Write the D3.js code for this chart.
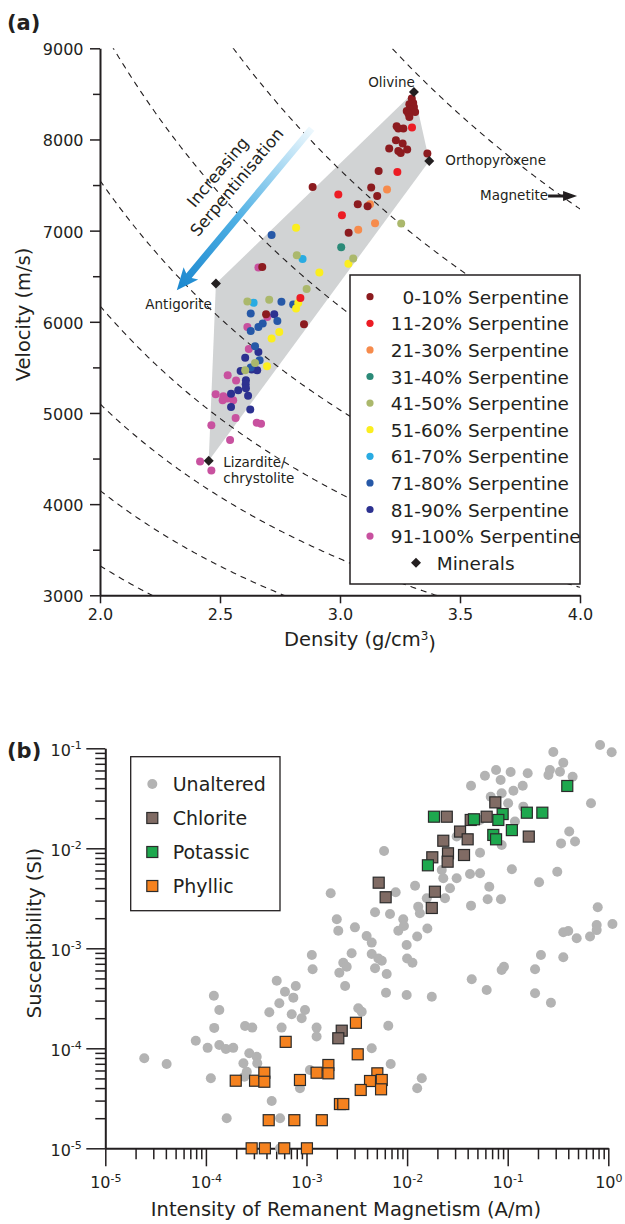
<!DOCTYPE html>
<html><head><meta charset="utf-8">
<script src="https://cdn.jsdelivr.net/npm/d3@7"></script>
<style>
body{margin:0;background:#fff}
svg{display:block}
text{font-family:"DejaVu Sans",sans-serif;fill:#231f20}
</style>
</head><body>
<script>
// ================= DATA : panel (a) =================
const serpClasses = ["0-10% Serpentine","11-20% Serpentine","21-30% Serpentine","31-40% Serpentine","41-50% Serpentine","51-60% Serpentine","61-70% Serpentine","71-80% Serpentine","81-90% Serpentine","91-100% Serpentine"];
const serpColors = ["#8c1b1f","#ec1c24","#f68b4c","#2b8a78","#abb86c","#fbee1f","#29abe2","#2658a7","#2c3190","#c8519f"];
// [density g/cm3, velocity m/s]
const serp0to10 = [[3.299,8448],[3.305,8400],[3.289,8386],[3.308,8356],[3.292,8328],[3.278,8312],[3.313,8301],[3.285,8284],[3.289,8246],[3.236,8144],[3.243,8119],[3.264,8119],[3.233,7991],[3.261,7955],[3.205,7900],[3.243,7873],[3.253,7852],[3.280,7889],[3.364,7845],[3.161,7654],[2.886,7479],[3.130,7472],[3.155,7380],[3.074,7289],[3.115,7267],[3.036,6978],[2.676,6601],[2.692,6082],[2.850,5973]];
const serp11to20 = [[3.300,8130],[3.239,7643],[2.993,7395],[3.008,7168],[2.835,6261]];
const serp21to30 = [[3.196,7450],[3.125,7289],[3.146,7080],[3.076,7011]];
const serp31to40 = [[3.005,6817]];
const serp41to50 = [[3.255,7077],[3.055,6693],[2.820,6729],[2.861,6360],[2.614,6223],[2.705,6243],[2.646,5548],[2.605,5468]];
const serp51to60 = [[2.817,7031],[3.035,6638],[2.914,6541],[2.826,6206],[2.817,6145],[2.747,5888],[2.715,5816],[2.696,5512]];
const serp61to70 = [[2.844,6689],[2.640,6208]];
const serp71to80 = [[2.715,6952],[2.756,6219],[2.805,6190],[2.628,6090],[2.739,6009],[2.678,5980],[2.660,5943],[2.628,5899],[2.646,5731],[2.665,5578],[2.628,5498]];
const serp81to90 = [[2.726,6082],[2.660,5669],[2.605,5607],[2.632,5476],[2.586,5460],[2.655,5468],[2.608,5358],[2.607,5314],[2.608,5271],[2.576,5249],[2.546,5212],[2.617,5190],[2.546,5065],[2.626,5037]];
const serp91to100 = [[2.660,6595],[2.697,6053],[2.614,5943],[2.620,5702],[2.532,5413],[2.567,5355],[2.482,5205],[2.514,5183],[2.511,5139],[2.530,5158],[2.555,5139],[2.565,4945],[2.653,4894],[2.671,4883],[2.464,4865],[2.542,4703],[2.417,4467],[2.464,4368]];
const serpSeries = [serp0to10,serp11to20,serp21to30,serp31to40,serp41to50,serp51to60,serp61to70,serp71to80,serp81to90,serp91to100];

const mineralNames = ["Olivine","Orthopyroxene","Antigorite","Lizardite"];
const mineralDensity = [3.308,3.372,2.483,2.453];
const mineralVelocity = [8521,7764,6419,4475];
const fieldOrder = ["Olivine","Orthopyroxene","Lizardite","Antigorite"];
// acoustic impedance isolines (density x velocity, in g/cm3 * km/s)
const impedanceLevels = [6.65,8.3,10.2,12.35,15.1,18.5,23.0,28.95];
const arrowTail = [2.882,8119];
const arrowTip = [2.320,6346];
const magnetiteAnchor = [3.867,7380];

const yTicksA = [3000,4000,5000,6000,7000,8000,9000];
const yMinorA = [3500,4500,5500,6500,7500,8500];
const xTicksA = [2.0,2.5,3.0,3.5,4.0];

// ================= DATA : panel (b) =================
// [intensity of remanent magnetism A/m, susceptibility SI]
const unaltered = [[0.284,0.0918],[0.828,0.108],[1.08,0.0912],[0.357,0.0718],[0.263,0.0607],[0.331,0.0583],[0.254,0.0541],[0.442,0.052],[0.0766,0.0607],[0.0594,0.0532],[0.107,0.0579],[0.158,0.0562],[0.0851,0.0482],[0.0432,0.0423],[0.141,0.0423],[0.114,0.0377],[0.0871,0.0355],[0.0678,0.0328],[0.101,0.0282],[0.143,0.0261],[0.673,0.0282],[0.0531,0.0192],[0.118,0.0185],[0.0311,0.0131],[0.0871,0.0108],[0.0531,0.00904],[0.409,0.0147],[0.339,0.0112],[0.467,0.0117],[0.0059,0.0094],[0.0221,0.00607],[0.0229,0.00501],[0.0311,0.00501],[0.0422,0.00553],[0.0531,0.00562],[0.11,0.00617],[0.311,0.00583],[0.205,0.00457],[0.012,0.00423],[0.0267,0.00398],[0.0656,0.00413],[0.0077,0.00363],[0.00174,0.00355],[0.0157,0.00316],[0.0238,0.00316],[0.0632,0.00309],[0.0857,0.00309],[0.0432,0.00267],[0.0129,0.00261],[0.0134,0.00224],[0.0048,0.00229],[0.00676,0.0022],[0.002,0.00195],[0.00207,0.0015],[0.00303,0.00162],[0.00396,0.00133],[0.00916,0.00195],[0.0093,0.00167],[0.00818,0.0015],[0.0159,0.00158],[0.0126,0.00131],[0.785,0.00257],[1.1,0.00175],[0.767,0.00171],[0.767,0.00152],[0.357,0.00145],[0.4,0.00149],[0.485,0.00126],[0.658,0.00131],[0.00445,0.00114],[0.0099,0.00108],[0.01,0.00079],[0.0113,0.000718],[0.00627,0.000553],[0.00617,0.00036],[0.0099,0.000341],[0.0176,0.000328],[0.00113,0.000857],[0.00115,0.000617],[0.00281,0.000891],[0.00232,0.000718],[0.00251,0.000655],[0.00212,0.00057],[0.00445,0.000877],[0.00518,0.00079],[0.0056,0.000752],[0.0048,0.000631],[0.00242,0.00042],[0.00327,0.000251],[0.00354,0.000232],[0.000966,0.000242],[0.000895,0.0002],[0.0065,0.000168],[0.00445,0.0001],[0.00687,0.0000697],[0.014,0.0000501],[0.0126,0.0000398],[0.214,0.000857],[0.357,0.000813],[0.0918,0.000655],[0.0871,0.000607],[0.187,0.000617],[0.0439,0.00049],[0.0618,0.000383],[0.187,0.000355],[0.269,0.000286],[0.000506,0.000474],[0.000611,0.000368],[0.000782,0.00042],[0.00074,0.000321],[0.000537,0.000282],[0.000427,0.000229],[0.000713,0.000219],[0.000566,0.000161],[0.00126,0.000161],[0.00126,0.000131],[0.00012,0.000336],[0.000136,0.000242],[0.000121,0.00016],[0.0000793,0.000119],[0.000104,0.000101],[0.000136,0.000108],[0.000158,0.0000984],[0.000187,0.000101],[0.000245,0.000167],[0.000289,0.000161],[0.00027,0.0000891],[0.00032,0.0000824],[0.000324,0.0000708],[0.000236,0.0000708],[0.000255,0.0000583],[0.000241,0.000052],[0.0000244,0.0000794],[0.0000407,0.0000697],[0.000112,0.0000501],[0.000451,0.0000297],[0.000161,0.00002],[0.000546,0.00002],[0.000861,0.0000398],[0.00108,0.0000607],[0.000546,0.00001]];
const chlorite = [[0.0753,0.0288],[0.0248,0.0207],[0.0429,0.0192],[0.0618,0.0207],[0.0336,0.0147],[0.04,0.0123],[0.0229,0.0119],[0.162,0.0131],[0.0255,0.00891],[0.0368,0.00857],[0.0178,0.00813],[0.0253,0.00735],[0.00522,0.00453],[0.00612,0.00324],[0.0189,0.00368],[0.0176,0.00253],[0.00224,0.00015],[0.00207,0.000126]];
const potassic = [[0.391,0.042],[0.0185,0.0207],[0.0462,0.0195],[0.0891,0.022],[0.0807,0.0192],[0.155,0.0227],[0.221,0.0227],[0.11,0.0152],[0.0719,0.0136],[0.0766,0.0123],[0.0161,0.00676]];
const phyllic = [[0.000621,0.000116],[0.000198,0.0000474],[0.000308,0.0000474],[0.000381,0.000057],[0.000381,0.0000463],[0.000861,0.0000482],[0.00126,0.000057],[0.00165,0.0000681],[0.00165,0.0000562],[0.000421,0.0000191],[0.000757,0.0000191],[0.00142,0.0000191],[0.000285,0.00001],[0.000386,0.00001],[0.000601,0.00001],[0.00101,0.00001],[0.0031,0.00018],[0.00323,0.0000871],[0.00506,0.0000562],[0.00428,0.0000471],[0.0056,0.0000482],[0.00346,0.0000383],[0.00551,0.0000389],[0.00215,0.0000277],[0.00232,0.0000277]];
const alterationNames = ["Unaltered","Chlorite","Potassic","Phyllic"];
const alterationColors = ["#b3b3b3","#806b64","#1ea84e","#f5821f"];
const xTicksB = [1e-5,1e-4,1e-3,1e-2,1e-1,1];
const yTicksB = [1e-5,1e-4,1e-3,1e-2,1e-1];

// ================= DRAW =================
const INK = "#231f20";
const svg = d3.select("body").append("svg").attr("width",625).attr("height",1224).style("background","#fff");
const defs = svg.append("defs");

// ---------- Panel (a)
const xA = d3.scaleLinear().domain([2,4]).range([100,580]);
const yA = d3.scaleLinear().domain([3000,9000]).range([595.3,48.3]);
defs.append("clipPath").attr("id","clipA").append("rect")
  .attr("x",xA(2)).attr("y",yA(9000)).attr("width",xA(4)-xA(2)).attr("height",yA(3000)-yA(9000));
const gA = svg.append("g");

const minerals = mineralNames.map((n,i)=>({name:n,density:mineralDensity[i],velocity:mineralVelocity[i]}));
const fieldPts = fieldOrder.map(n=>minerals.find(m=>m.name===n)).map(m=>[xA(m.density),yA(m.velocity)]);
gA.append("path").attr("d","M"+fieldPts.map(p=>p.join(",")).join("L")+"Z").attr("fill","#d1d3d4");

const densGrid = d3.range(2,4.0001,0.005);
const lineA = d3.line().x(d=>xA(d[0])).y(d=>yA(d[1]));
gA.append("g").attr("clip-path","url(#clipA)").selectAll("path").data(impedanceLevels).join("path")
  .attr("d",z=>lineA(densGrid.map(d=>[d,z*1000/d])))
  .attr("fill","none").attr("stroke",INK).attr("stroke-width",1.1).attr("stroke-dasharray","6,5");

// axes (a)
const axYA = gA.append("g").attr("transform",`translate(${xA(2)},0)`)
  .call(d3.axisLeft(yA).tickValues(yTicksA).tickSize(10).tickSizeOuter(0).tickPadding(6.5).tickFormat(d3.format("d")));
gA.append("g").attr("transform",`translate(${xA(2)},0)`)
  .call(d3.axisLeft(yA).tickValues(yMinorA).tickSize(7).tickSizeOuter(0).tickFormat(""))
  .select(".domain").remove();
const axXA = gA.append("g").attr("transform",`translate(0,${yA(3000)})`)
  .call(d3.axisBottom(xA).tickValues(xTicksA).tickSize(8).tickSizeOuter(0).tickPadding(5.8).tickFormat(d3.format(".1f")));
[axYA,axXA].forEach(a=>{
  a.attr("font-family",null).attr("font-size",null).attr("color",INK);
  a.select(".domain").attr("stroke-width",2);
  a.selectAll("text").style("font-size","16px");
});
axYA.selectAll("text").attr("dy","0.4em");
gA.selectAll(".tick line").attr("stroke-width",1.5).attr("stroke",INK);

// blue arrow
const aTip=[xA(arrowTip[0]),yA(arrowTip[1])], aTail=[xA(arrowTail[0]),yA(arrowTail[1])];
const aL=Math.hypot(aTail[0]-aTip[0],aTail[1]-aTip[1]);
const aAng=Math.atan2(aTail[1]-aTip[1],aTail[0]-aTip[0])*180/Math.PI;
const grad=defs.append("linearGradient").attr("id","arrowGrad").attr("gradientUnits","userSpaceOnUse")
  .attr("x1",0).attr("y1",0).attr("x2",aL).attr("y2",0);
grad.append("stop").attr("offset",0).attr("stop-color","#1b87cf");
grad.append("stop").attr("offset",0.45).attr("stop-color","#4fb0e4");
grad.append("stop").attr("offset",1).attr("stop-color","#eef8fd");
gA.append("g").attr("transform",`translate(${aTip[0]},${aTip[1]}) rotate(${aAng})`)
  .append("path").attr("d",`M0,0L22,-9.5L19,-3.5L${aL},-3.5L${aL},3.5L19,3.5L22,9.5Z`).attr("fill","url(#arrowGrad)");
const gTxt = gA.append("g").attr("transform",`translate(227,177) rotate(${aAng})`);
gTxt.append("text").attr("x",-2.3).attr("y",-4.5).attr("text-anchor","middle").style("font-size","16.5px").text("Increasing");
gTxt.append("text").attr("x",2.3).attr("y",16.5).attr("text-anchor","middle").style("font-size","16.5px").text("Serpentinisation");

// legend (a)
const legA = gA.append("g");
legA.append("rect").attr("x",350).attr("y",275).attr("width",230).attr("height",309)
  .attr("fill","#fff").attr("stroke",INK).attr("stroke-width",1.5);
const rowA = i=>296.7+i*26.6;
serpClasses.forEach((c,i)=>{
  legA.append("circle").attr("cx",370).attr("cy",rowA(i)).attr("r",3.6).attr("fill",serpColors[i]);
  legA.append("text").attr("x",390.7).attr("y",rowA(i)+7).attr("dx",i===0?"0.636em":0)
    .style("font-size","18.5px").text(c);
});
legA.append("path").attr("d",d3.symbol(d3.symbolSquare,50)()).attr("transform",`translate(416,${rowA(10)}) rotate(45)`).attr("fill",INK);
legA.append("text").attr("x",436.7).attr("y",rowA(10)+7).style("font-size","18.5px").text("Minerals");

// points (a)
const ptsA=[];
serpSeries.forEach((s,i)=>s.forEach(d=>ptsA.push({d:d[0],v:d[1],c:i})));
ptsA.sort((a,b)=>b.c-a.c);
gA.append("g").selectAll("circle").data(ptsA).join("circle")
  .attr("cx",p=>xA(p.d)).attr("cy",p=>yA(p.v)).attr("r",4).attr("fill",p=>serpColors[p.c]);

// minerals
gA.append("g").selectAll("path").data(minerals).join("path")
  .attr("d",d3.symbol(d3.symbolSquare,50)())
  .attr("transform",m=>`translate(${xA(m.density)},${yA(m.velocity)}) rotate(45)`).attr("fill",INK);
const labA = gA.append("g").style("font-size","13.5px");
const mp = n=>{const m=minerals.find(k=>k.name===n);return [xA(m.density),yA(m.velocity)];};
let p=mp("Olivine"); labA.append("text").attr("x",p[0]+1).attr("y",p[1]-5).attr("text-anchor","end").text("Olivine");
p=mp("Orthopyroxene"); labA.append("text").attr("x",p[0]+16).attr("y",p[1]+4.5).text("Orthopyroxene");
p=mp("Antigorite"); labA.append("text").attr("x",p[0]-4).attr("y",p[1]+25).attr("text-anchor","end").text("Antigorite");
p=mp("Lizardite"); labA.append("text").attr("x",p[0]+14.5).attr("y",p[1]+6.5).text("Lizardite/");
labA.append("text").attr("x",p[0]+14.5).attr("y",p[1]+22.5).text("chrystolite");
const mg=[xA(magnetiteAnchor[0]),yA(magnetiteAnchor[1])];
labA.append("text").attr("x",mg[0]).attr("y",mg[1]+4).attr("text-anchor","end").text("Magnetite");
labA.append("path").attr("d",`M${mg[0]},${mg[1]-1.4}h15v-3.6l14,5l-14,5v-3.6h-15Z`).attr("fill",INK);

// titles (a)
svg.append("text").attr("x",7).attr("y",30).style("font-size","21px").style("font-weight","bold").text("(a)");
svg.append("text").attr("transform","translate(29.5,314.5) rotate(-90)").attr("text-anchor","middle").style("font-size","19.5px").text("Velocity (m/s)");
const dT = svg.append("text").attr("x",360).attr("y",646).attr("text-anchor","middle").style("font-size","19.5px");
dT.append("tspan").text("Density (g/cm");
dT.append("tspan").attr("dy","-0.5em").style("font-size","12px").text("3");
dT.append("tspan").attr("dy","0.5em").text(")");

// ---------- Panel (b)
const xB = d3.scaleLog().domain([1e-5,1]).range([105.3,608.3]);
const yB = d3.scaleLog().domain([1e-5,1e-1]).range([1148.3,748.3]);
const gB = svg.append("g");
const minorOf = ticks => { const out=[]; ticks.slice(0,-1).forEach(t=>{ for(let m=2;m<=9;m++) out.push(m*t); }); return out; };
const supLabel = sel => sel.each(function(d){
  const t=d3.select(this); const e=Math.round(Math.log10(d)); t.text(null);
  t.append("tspan").text("10");
  t.append("tspan").attr("dy","-0.6em").style("font-size","11px").text(String(e));
});
const axYB = gB.append("g").attr("transform",`translate(${xB(1e-5)},0)`)
  .call(d3.axisLeft(yB).tickValues(yTicksB).tickSize(19).tickSizeOuter(0).tickPadding(4.5));
gB.append("g").attr("transform",`translate(${xB(1e-5)},0)`)
  .call(d3.axisLeft(yB).tickValues(minorOf(yTicksB)).tickSize(10).tickSizeOuter(0).tickFormat(""))
  .select(".domain").remove();
const axXB = gB.append("g").attr("transform",`translate(0,${yB(1e-5)})`)
  .call(d3.axisBottom(xB).tickValues(xTicksB).tickSize(18).tickSizeOuter(0).tickPadding(4));
gB.append("g").attr("transform",`translate(0,${yB(1e-5)})`)
  .call(d3.axisBottom(xB).tickValues(minorOf(xTicksB)).tickSize(11).tickSizeOuter(0).tickFormat(""))
  .select(".domain").remove();
[axYB,axXB].forEach(a=>{
  a.attr("font-family",null).attr("font-size",null).attr("color",INK);
  a.select(".domain").attr("stroke-width",2);
  a.selectAll("text").style("font-size","16px").call(supLabel);
});
axYB.selectAll(".tick text").attr("dy","0.45em");
axXB.selectAll(".tick text").attr("dy",null).attr("y",40);
gB.selectAll(".tick line").attr("stroke-width",1.5).attr("stroke",INK);

// points (b)
gB.append("g").selectAll("circle").data(unaltered).join("circle")
  .attr("cx",d=>xB(d[0])).attr("cy",d=>yB(d[1])).attr("r",5).attr("fill",alterationColors[0]);
const sq=11;
[chlorite,potassic,phyllic].forEach((s,i)=>{
  gB.append("g").selectAll("rect").data(s).join("rect")
    .attr("x",d=>xB(d[0])-sq/2).attr("y",d=>yB(d[1])-sq/2).attr("width",sq).attr("height",sq)
    .attr("fill",alterationColors[i+1]).attr("stroke","#2b2b2b").attr("stroke-width",1.2);
});

// legend (b)
const legB = gB.append("g");
legB.append("rect").attr("x",130.7).attr("y",756.7).attr("width",149.3).attr("height",154)
  .attr("fill","#fff").attr("stroke",INK).attr("stroke-width",1.3);
const rowB = i=>784+i*34;
alterationNames.forEach((n,i)=>{
  if(i===0) legB.append("circle").attr("cx",152.3).attr("cy",rowB(i)).attr("r",5).attr("fill",alterationColors[0]);
  else legB.append("rect").attr("x",152.3-5.5).attr("y",rowB(i)-5.5).attr("width",11).attr("height",11)
    .attr("fill",alterationColors[i]).attr("stroke","#2b2b2b").attr("stroke-width",1.2);
  legB.append("text").attr("x",172.7).attr("y",rowB(i)+7).style("font-size","19px").text(n);
});

// titles (b)
svg.append("text").attr("x",7).attr("y",758).style("font-size","21px").style("font-weight","bold").text("(b)");
svg.append("text").attr("transform","translate(41,933) rotate(-90)").attr("text-anchor","middle").style("font-size","19.5px").text("Susceptibility (SI)");
svg.append("text").attr("x",346).attr("y",1216).attr("text-anchor","middle").style("font-size","19.5px").text("Intensity of Remanent Magnetism (A/m)");
</script>
</body></html>
